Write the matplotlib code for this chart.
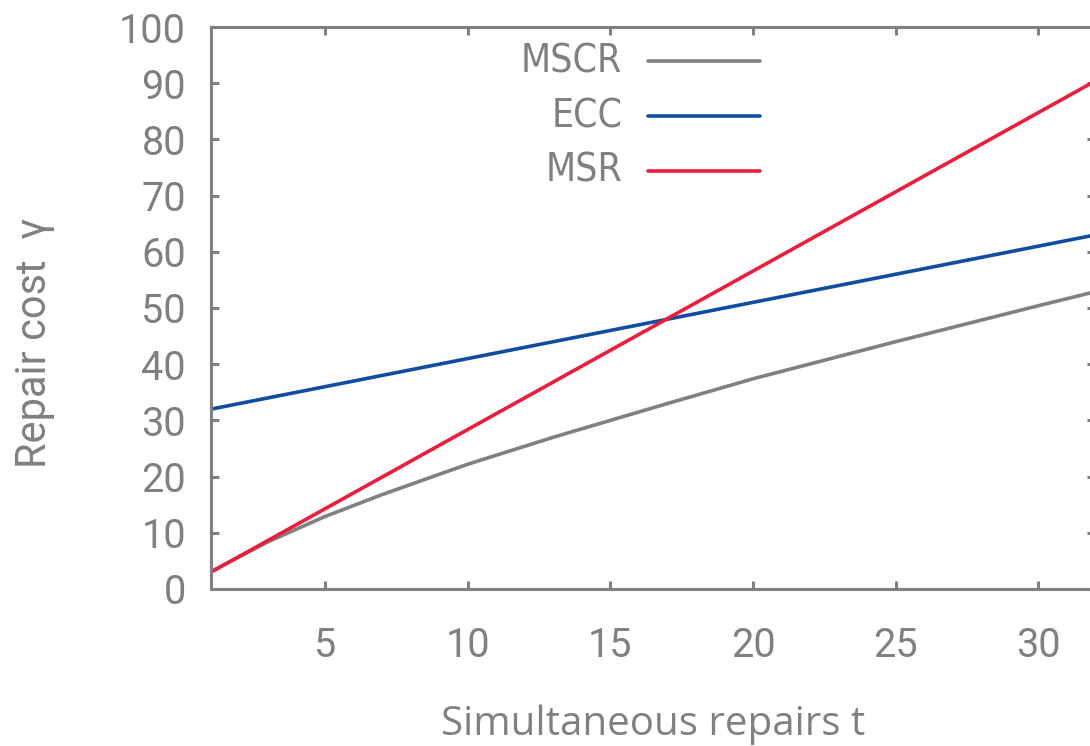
import matplotlib
matplotlib.use("Agg")
import matplotlib.pyplot as plt

# values
t_mscr = [1, 3, 5, 7, 10, 13, 15, 17, 20, 25, 30, 32]
mscr = [3.1, 8.4, 12.9, 16.8, 22.2, 27.0, 30.0, 33.0, 37.4, 44.0, 50.4, 52.9]

t_ecc = [1, 32]
ecc = [32.0, 63.0]

t_msr = [1, 32]
msr = [3.0, 90.4]

series = [("MSCR", t_mscr, mscr, "#808080"),
          ("ECC", t_ecc, ecc, "#104da0"),
          ("MSR", t_msr, msr, "#ec1c3a")]

grey = "#808080"

fig = plt.figure(figsize=(10.9, 7.46), dpi=100)
ax = fig.add_axes([0.1936, 0.2105, 0.8113, 0.7533])

for name, x, y, c in series:
    ax.plot(x, y, color=c, lw=2.6, solid_capstyle="butt", solid_joinstyle="round")

ax.set_xlim(1, 32)
ax.set_ylim(0, 100)
ax.set_xticks([5, 10, 15, 20, 25, 30])
ax.set_yticks(range(0, 101, 10))

for s in ax.spines.values():
    s.set_color(grey)
    s.set_linewidth(2.2)

ax.tick_params(direction="in", length=6, width=2.2, color=grey,
               top=True, right=True, labelcolor=grey, labelsize=28.5)
ax.tick_params(axis="y", pad=18)
ax.tick_params(axis="x", pad=27)
for lab in ax.get_xticklabels() + ax.get_yticklabels():
    lab.set_family("Roboto")

ax.set_xlabel("Simultaneous repairs t", fontsize=29, color=grey,
              family="Open Sans", labelpad=28)
ax.set_ylabel("Repair cost  \u03b3", fontsize=30, color=grey, family="Roboto")
ax.yaxis.set_label_coords(-0.176, 0.438)

# gnuplot-style key: text right aligned, sample line to the right
key_y = [0.9395, 0.8416, 0.7438]
for (name, x, y, c), ky in zip(series, key_y):
    ax.plot([0.494, 0.621], [ky, ky], color=c, lw=2.6,
            transform=ax.transAxes, solid_capstyle="round")
    ax.text(0.465, ky, name, transform=ax.transAxes, ha="right", va="center",
            fontsize=28, color=grey, family="DejaVu Sans", fontstretch="condensed")

fig.savefig("out.png", dpi=100)
